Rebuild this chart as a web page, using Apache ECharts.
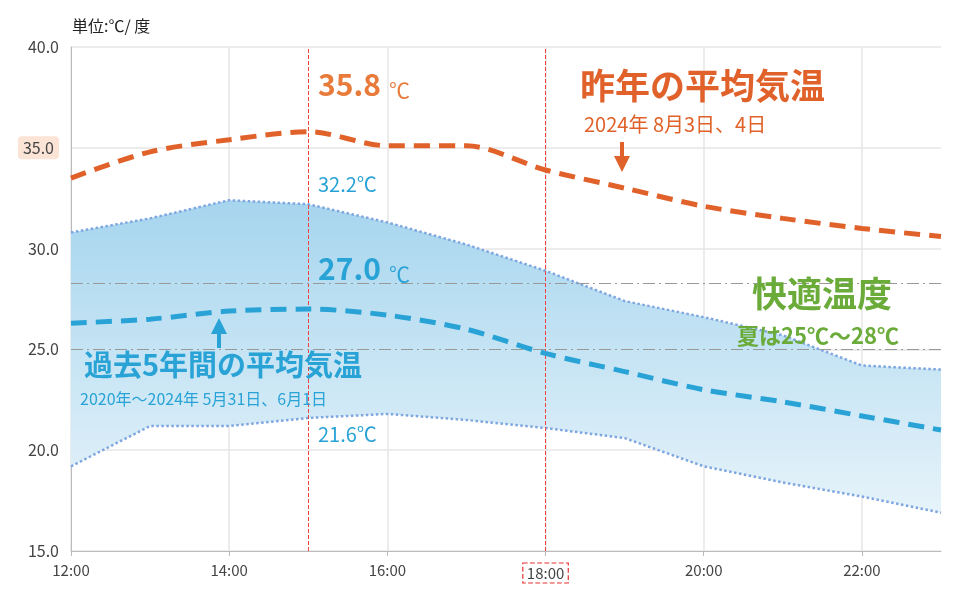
<!DOCTYPE html>
<html><head><meta charset="utf-8">
<script src="https://cdn.jsdelivr.net/npm/echarts@6/dist/echarts.min.js"></script>
<style>body{margin:0}#c{width:977px;height:596px}</style></head>
<body><div id="c"></div>
<script>
const hours=['12:00','13:00','14:00','15:00','16:00','17:00','18:00','19:00','20:00','21:00','22:00','23:00'];
const lastYear=[33.5,34.8,35.4,35.8,35.1,35.1,33.9,33.0,32.1,31.5,31.0,30.6];
const avg5=[26.3,26.5,26.9,27.0,26.7,26.0,24.8,23.9,23.0,22.4,21.7,21.0];
const upper=[30.8,31.5,32.4,32.2,31.3,30.2,28.9,27.4,26.6,25.7,24.2,24.0];
const lower=[19.2,21.2,21.2,21.6,21.8,21.5,21.1,20.6,19.2,18.4,17.7,16.9];
const yTicks=[15,20,25,30,35,40];
const F='"Noto Sans CJK JP", "Noto Sans", sans-serif';
const chart=echarts.init(document.getElementById('c'));
const diff=upper.map((v,i)=>+(v-lower[i]).toFixed(2));
const G=(o)=>Object.assign({z:100},o);
chart.setOption({
 animation:false,
 grid:{left:71,right:36,top:47,bottom:45},
 xAxis:{type:'category',boundaryGap:false,data:hours,
  axisLine:{lineStyle:{color:'#bbb'}},axisTick:{show:true,lineStyle:{color:'#bbb'}},
  splitLine:{show:true,lineStyle:{color:'#e6e6e6',width:1.5}},
  axisLabel:{color:'#444',fontSize:15,fontFamily:F,margin:12,
   formatter:v=>(v==='15:00'||v==='18:00')?'{b|'+v+'}':'{n|'+v+'}',
   rich:{n:{fontSize:15,color:'#444',fontFamily:F},b:{borderColor:'#e83030',borderType:'dashed',borderWidth:1.2,padding:[3,4,2,4],fontSize:15,color:'#444',fontFamily:F}}}},
 yAxis:{type:'value',min:yTicks[0],max:yTicks[yTicks.length-1],interval:5,
  axisLine:{show:true,lineStyle:{color:'#bbb'}},
  splitLine:{lineStyle:{color:'#e6e6e6',width:1.5}},
  axisLabel:{color:'#444',fontSize:16,fontFamily:F,margin:12,
   formatter:v=>v===35?'{p|35.0}':'{n|'+v.toFixed(1)+'}',
   rich:{n:{fontSize:16,color:'#444',fontFamily:F},p:{backgroundColor:'#fbe3d6',borderRadius:4,padding:[4,5,3,5],fontSize:16,color:'#444',fontFamily:F}}}},
 series:[
  {type:'line',data:lower,stack:'band',symbol:'none',lineStyle:{color:'#7ea6e0',type:'dotted',width:2.5},areaStyle:{opacity:0},z:1},
  {type:'line',data:diff,stack:'band',symbol:'none',lineStyle:{opacity:0},
   areaStyle:{color:new echarts.graphic.LinearGradient(0,0,0,1,[{offset:0,color:'#a6d5ee'},{offset:1,color:'#e6f3fa'}]),opacity:1},z:1},
  {type:'line',data:upper,symbol:'none',lineStyle:{color:'#7ea6e0',type:'dotted',width:2.5},z:2,
   markLine:{symbol:'none',silent:true,label:{show:false},
    data:[{xAxis:'15:00',lineStyle:{color:'#f04040',type:'dashed',width:1}},{xAxis:'18:00',lineStyle:{color:'#f04040',type:'dashed',width:1}},
     {yAxis:28.3,lineStyle:{color:'#999',type:[12,4,2,4],width:1}},{yAxis:25,lineStyle:{color:'#999',type:[12,4,2,4],width:1}}]}},
  {type:'line',data:lastYear,smooth:0.3,symbol:'none',lineStyle:{color:'#e0622a',type:[16,9],width:5},z:5},
  {type:'line',data:avg5,smooth:0.3,symbol:'none',lineStyle:{color:'#29a3d6',type:[16,9],width:5},z:5}
 ],
 graphic:[
  G({type:'text',left:72,top:18,style:{text:'単位:℃/ 度',font:'16px '+F,fill:'#222'}}),
  G({type:'text',left:318,top:70,style:{text:'35.8',font:'bold 30px '+F,fill:'#e87a3a'}}),
  G({type:'text',left:389,top:80,style:{text:'℃',font:'21px '+F,fill:'#e87a3a'}}),
  G({type:'text',left:318,top:174,style:{text:'32.2℃',font:'20px '+F,fill:'#29a3d6'}}),
  G({type:'text',left:318,top:254,style:{text:'27.0',font:'bold 30px '+F,fill:'#29a3d6'}}),
  G({type:'text',left:389,top:264,style:{text:'℃',font:'21px '+F,fill:'#29a3d6'}}),
  G({type:'text',left:318,top:424,style:{text:'21.6℃',font:'20px '+F,fill:'#29a3d6'}}),
  G({type:'text',left:580,top:68,style:{text:'昨年の平均気温',font:'bold 35px '+F,fill:'#e0622a'}}),
  G({type:'text',left:584,top:114,style:{text:'2024年 8月3日、4日',font:'20px '+F,fill:'#e0622a'}}),
  G({type:'polygon',shape:{points:[[614,156],[630,156],[622,172]]},style:{fill:'#e0622a'}}),
  G({type:'rect',shape:{x:620,y:142,width:4,height:16},style:{fill:'#e0622a'}}),
  G({type:'text',left:752,top:276,style:{text:'快適温度',font:'bold 35px '+F,fill:'#6aab3a'}}),
  G({type:'text',left:737,top:325,style:{text:'夏は25℃～28℃',font:'bold 22px '+F,fill:'#6aab3a'}}),
  G({type:'polygon',shape:{points:[[211,334],[227,334],[219,318]]},style:{fill:'#29a3d6'}}),
  G({type:'rect',shape:{x:217,y:332,width:4,height:16},style:{fill:'#29a3d6'}}),
  G({type:'text',left:84,top:350,style:{text:'過去5年間の平均気温',font:'bold 29px '+F,fill:'#29a3d6'}}),
  G({type:'text',left:80,top:391,style:{text:'2020年～2024年 5月31日、6月1日',font:'16px '+F,fill:'#29a3d6'}})
 ]
});
</script></body></html>
